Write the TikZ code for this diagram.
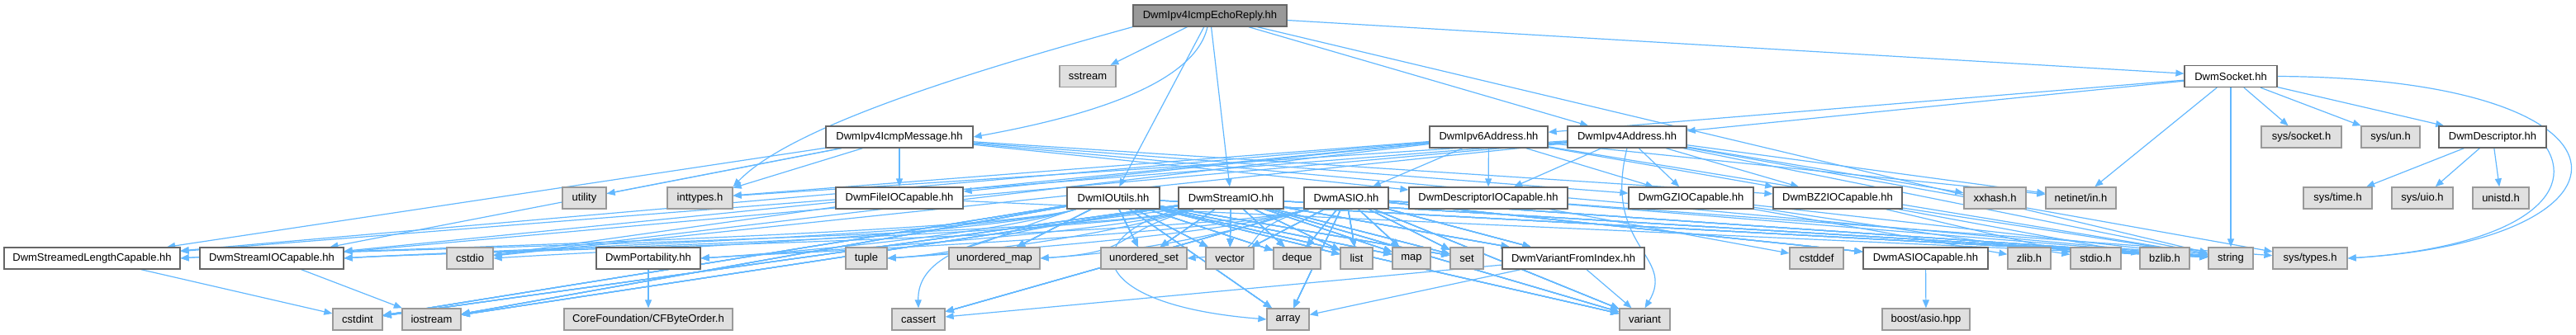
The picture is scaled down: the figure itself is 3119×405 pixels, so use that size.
\documentclass[tikz,border=0pt]{standalone}
\usepackage{fontspec}
\setmainfont{Liberation Sans}
\usetikzlibrary{arrows.meta}
\definecolor{edgec}{HTML}{63B8FF}
\definecolor{sysfill}{HTML}{E0E0E0}
\definecolor{sysdraw}{HTML}{999999}
\definecolor{wdraw}{HTML}{666666}
\definecolor{rootfill}{HTML}{999999}
\pgfdeclarelayer{bg}
\pgfsetlayers{bg,main}
\newcommand{\nd}[6]{\node[#1, minimum width={(#4-#3)*1pt}] (#2) at ({(#3+#4)/2},#5) {#6};}
\newcommand{\lft}[2]{\draw[edge] (#1) .. controls +(-150,45) and +(120,-8) .. (#2.east);}
\begin{document}
\begin{tikzpicture}[x=1pt,y=-1pt,
  font=\fontsize{13pt}{15pt}\selectfont,
  box/.style={draw, line width=1.3pt, inner sep=0pt, minimum height=26pt, anchor=center, text=black},
  sysbox/.style={box, fill=sysfill, draw=sysdraw},
  wbox/.style={box, fill=white, draw=wdraw},
  rootbox/.style={box, fill=rootfill, draw=wdraw},
  edge/.style={draw=edgec, line width=1.2pt, -{Triangle[length=10pt,width=8pt]}}]
\useasboundingbox (0,0) rectangle (3119,405);
% row 1
\nd{rootbox}{R}{1372}{1558}{19}{DwmIpv4IcmpEchoReply.hh}
% row 2
\nd{sysbox}{sstream}{1283}{1351}{92.5}{sstream}
\nd{wbox}{So}{2645}{2757}{92.5}{DwmSocket.hh}
% row 3
\nd{wbox}{IM}{1000}{1178}{166}{DwmIpv4IcmpMessage.hh}
\nd{wbox}{I6}{1731}{1874}{166}{DwmIpv6Address.hh}
\nd{wbox}{I4}{1898}{2042}{166}{DwmIpv4Address.hh}
\nd{sysbox}{sysSocket}{2738}{2835}{166}{sys/socket.h}
\nd{sysbox}{sysUn}{2859}{2930}{166}{sys/un.h}
\nd{wbox}{De}{2953}{3083}{166}{DwmDescriptor.hh}
% row 4
\nd{sysbox}{utility}{681}{734}{240}{utility}
\nd{sysbox}{inttypes}{808}{887}{240}{inttypes.h}
\nd{wbox}{FIO}{1012}{1166}{240}{DwmFileIOCapable.hh}
\nd{wbox}{IU}{1292}{1404}{240}{DwmIOUtils.hh}
\nd{wbox}{SI}{1427}{1554}{240}{DwmStreamIO.hh}
\nd{wbox}{ASIO}{1579}{1681}{240}{DwmASIO.hh}
\nd{wbox}{DIO}{1706}{1898}{240}{DwmDescriptorIOCapable.hh}
\nd{wbox}{GZ}{1972}{2123}{240}{DwmGZIOCapable.hh}
\nd{wbox}{BZ}{2147}{2303}{240}{DwmBZ2IOCapable.hh}
\nd{sysbox}{xxhash}{2378}{2453}{240}{xxhash.h}
\nd{sysbox}{netinet}{2477}{2562}{240}{netinet/in.h}
\nd{sysbox}{sysTime}{2789}{2872}{240}{sys/time.h}
\nd{sysbox}{sysUio}{2896}{2970}{240}{sys/uio.h}
\nd{sysbox}{unistd}{2994}{3062}{240}{unistd.h}
% row 5
\nd{wbox}{SLC}{5}{218}{313}{DwmStreamedLengthCapable.hh}
\nd{wbox}{SIOC}{242}{416}{313}{DwmStreamIOCapable.hh}
\nd{sysbox}{cstdio}{541}{597}{313}{cstdio}
\nd{wbox}{Port}{722}{848}{313}{DwmPortability.hh}
\nd{sysbox}{tuple}{1024}{1074}{313}{tuple}
\nd{sysbox}{umap}{1149}{1259}{313}{unordered\_map}
\nd{sysbox}{uset}{1333}{1437}{313}{unordered\_set}
\nd{sysbox}{vector}{1460}{1518}{313}{vector}
\nd{sysbox}{deque}{1542}{1599}{313}{deque}
\nd{sysbox}{list}{1623}{1662}{313}{list}
\nd{sysbox}{map}{1686}{1732}{313}{map}
\nd{sysbox}{set}{1756}{1796}{313}{set}
\nd{wbox}{VFI}{1819}{1991}{313}{DwmVariantFromIndex.hh}
\nd{sysbox}{cstddef}{2167}{2232}{313}{cstddef}
\nd{wbox}{ASIOC}{2256}{2407}{313}{DwmASIOCapable.hh}
\nd{sysbox}{zlib}{2431}{2483}{313}{zlib.h}
\nd{sysbox}{stdio}{2507}{2568}{313}{stdio.h}
\nd{sysbox}{bzlib}{2591}{2651}{313}{bzlib.h}
\nd{sysbox}{string}{2674}{2728}{313}{string}
\nd{sysbox}{sysTypes}{2752}{2842}{313}{sys/types.h}
% row 6
\nd{sysbox}{cstdint}{403}{463}{387}{cstdint}
\nd{sysbox}{iostream}{487}{558}{387}{iostream}
\nd{sysbox}{CF}{683}{887}{387}{CoreFoundation/CFByteOrder.h}
\nd{sysbox}{cassert}{1080}{1144}{387}{cassert}
\nd{sysbox}{array}{1534}{1585}{387}{array}
\nd{sysbox}{variant}{1961}{2022}{387}{variant}
\nd{sysbox}{boost}{2279}{2385}{387}{boost/asio.hpp}
\begin{pgfonlayer}{bg}
% root
\draw[edge] (R.south west) .. controls (1200,80) and (960,150) .. (inttypes.north east);
\draw[edge] (R) .. controls +(-20,90) and +(110,-20) .. (IM.east);
\foreach \t in {sstream,IU,SI,I4,So,string} \draw[edge] (R) -- (\t);
% socket
\foreach \t in {I6,I4,netinet,string,sysSocket,sysUn,De} \draw[edge] (So) -- (\t);
\draw[edge] (So.east) .. controls (3215,95) and (3215,290) .. (sysTypes.east);
% descriptor
\foreach \t in {sysTime,sysUio,unistd} \draw[edge] (De) -- (\t);
\draw[edge] (De.south east) .. controls (3120,240) and (3040,300) .. (sysTypes.east);
% icmp message
\foreach \t in {utility,inttypes,FIO,SLC,SIOC,DIO,GZ,BZ,string} \draw[edge] (IM) -- (\t);
% ipv6 / ipv4
\foreach \t in {inttypes,FIO,SIOC,SLC,ASIO,DIO,GZ,BZ,netinet,string,cstdio} \draw[edge] (I6) -- (\t);
\foreach \t in {inttypes,SIOC,SLC,DIO,GZ,BZ,xxhash,netinet,string,sysTypes,cstdio} \draw[edge] (I4) -- (\t);
\draw[edge] (I4.south) .. controls (1940,300) and (2030,310) .. (variant.north);
% io utils
\foreach \t in {SLC,SIOC,cstdio,Port,tuple} \lft{IU}{\t}
\foreach \t in {umap,uset,vector,deque,list,map,set,cstdint,iostream,string,array,variant} \draw[edge] (IU) -- (\t);
% stream io
\foreach \t in {SLC,SIOC,Port,tuple,umap} \lft{SI}{\t}
\foreach \t in {uset,vector,deque,list,map,set,VFI,cstdint,iostream,variant,string} \draw[edge] (SI) -- (\t);
\draw[edge] (SI.south west) .. controls (1250,275) and (1110,290) .. (cassert.north);
\draw[edge] (SI.south west) .. controls (1300,290) and (1320,370) .. (array.west);
% asio
\foreach \t in {SIOC,Port,tuple,umap,uset} \lft{ASIO}{\t}
\foreach \t in {vector,deque,list,map,set,VFI,ASIOC,array,variant,string,cassert} \draw[edge] (ASIO) -- (\t);
% capables
\foreach \t in {cstdio,string} \draw[edge] (FIO) -- (\t);
\foreach \t in {cstddef,sysTypes,string} \draw[edge] (DIO) -- (\t);
\foreach \t in {zlib,stdio,string} \draw[edge] (GZ) -- (\t);
\foreach \t in {bzlib,stdio,string} \draw[edge] (BZ) -- (\t);
\draw[edge] (SLC) -- (cstdint);
\draw[edge] (SIOC) -- (iostream);
\draw[edge] (Port) -- (CF);
\foreach \t in {variant,array,cassert} \draw[edge] (VFI) -- (\t);
\draw[edge] (ASIOC) -- (boost);
\end{pgfonlayer}
\end{tikzpicture}
\end{document}
